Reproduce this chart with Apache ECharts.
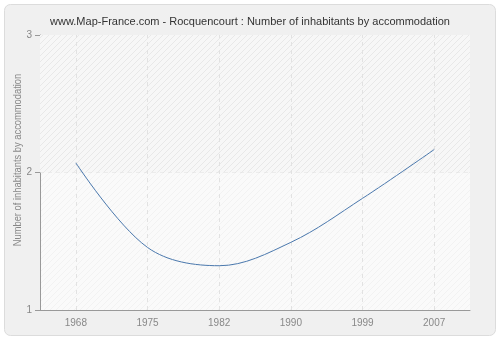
<!DOCTYPE html>
<html><head><meta charset="utf-8">
<script src="https://cdn.jsdelivr.net/npm/echarts@6/dist/echarts.min.js"></script>
<style>html,body{margin:0;padding:0;background:#fff}#c{width:500px;height:340px}</style>
</head><body><div id="c"></div>
<script>
var categories = ['1968','1975','1982','1990','1999','2007'];
var values = [2.07, 1.455, 1.322, 1.492, 1.812, 2.167];
var yTicks = [1, 2, 3];
var titleText = 'www.Map-France.com - Rocquencourt : Number of inhabitants by accommodation';
var yName = 'Number of inhabitants by accommodation';

function hatch(bg, line) {
  var c = document.createElement('canvas');
  c.width = 6; c.height = 6;
  var g = c.getContext('2d');
  g.fillStyle = bg; g.fillRect(0, 0, 6, 6);
  g.strokeStyle = line; g.lineWidth = 1;
  g.beginPath();
  g.moveTo(0, 6); g.lineTo(6, 0);
  g.moveTo(-1, 1); g.lineTo(1, -1);
  g.moveTo(5, 7); g.lineTo(7, 5);
  g.stroke();
  return {image: c, repeat: 'repeat'};
}

var FONT = 'Liberation Sans';
var chart = echarts.init(document.getElementById('c'), null, {renderer: 'canvas'});
chart.setOption({
  animation: false,
  backgroundColor: '#fff',
  graphic: [{
    type: 'rect', z: -10,
    shape: {x: 4.5, y: 4.5, width: 491, height: 331, r: 6},
    style: {fill: '#f0f0f0', stroke: '#dcdcdc', lineWidth: 1}
  }, {
    type: 'text', z: 10,
    x: 12, y: 160, rotation: Math.PI / 2, scaleX: 0.85,
    style: {
      text: yName, fill: '#888', align: 'center', verticalAlign: 'top',
      font: '11px "Liberation Sans"'
    }
  }],
  title: {
    text: titleText, left: 'center', top: 11,
    textStyle: {fontFamily: FONT, fontSize: 11, fontWeight: 'normal', color: '#333'}
  },
  grid: {
    left: 40, right: 30, top: 35, bottom: 30, show: true,
    outerBoundsMode: 'none', containLabel: false,
    backgroundColor: hatch('#fafafa', '#f2f2f2'), borderWidth: 0
  },
  xAxis: {
    type: 'category', data: categories, boundaryGap: true,
    axisLine: {lineStyle: {color: '#999'}},
    axisTick: {alignWithLabel: true, length: 5, lineStyle: {color: '#999'}},
    axisLabel: {color: '#888', fontFamily: FONT, fontSize: 10, margin: 8},
    splitLine: {show: false}
  },
  yAxis: {
    type: 'value', min: yTicks[0], max: yTicks[yTicks.length - 1], interval: 1,
    axisLine: {show: true, lineStyle: {color: '#999'}},
    axisTick: {show: true, length: 5, lineStyle: {color: '#999'}},
    axisLabel: {color: '#888', fontFamily: FONT, fontSize: 10, margin: 8},
    splitLine: {show: true, lineStyle: {color: '#e2e2e2', type: [4, 4]}}
  },
  series: [{
    type: 'line', data: values, smooth: 0.35, symbol: 'none', z: 5,
    lineStyle: {color: '#4a78ad', width: 1},
    markArea: {
      silent: true,
      itemStyle: {color: hatch('#f7f7f7', '#e8e8e8')},
      data: [[{yAxis: 2}, {yAxis: 3}]]
    },
    markLine: {
      silent: true, symbol: 'none', label: {show: false},
      lineStyle: {color: '#e2e2e2', type: [4, 4], width: 1},
      data: categories.map(function (c) { return {xAxis: c}; })
    }
  }]
});
</script></body></html>
